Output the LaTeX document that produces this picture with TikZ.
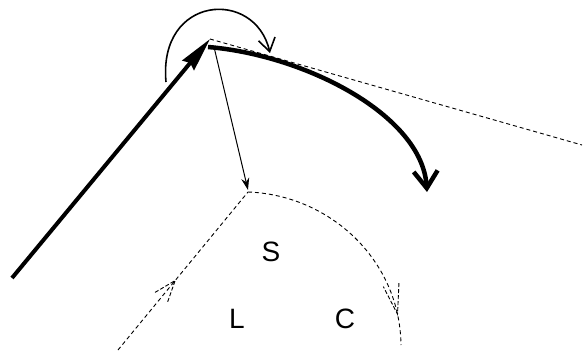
\documentclass[tikz,border=0pt]{standalone}
\usepackage{fontspec}
\setmainfont{Liberation Sans}
\usetikzlibrary{arrows.meta,decorations.markings}
\begin{document}
\begin{tikzpicture}[x=1pt,y=-1pt,
  lbl/.style={font=\fontsize{28}{30}\selectfont, inner sep=0pt},
  thin dash/.style={line width=0.9pt, dash pattern=on 4pt off 3pt},
  midarrow/.style args={#1 at #2}{postaction={decorate},
    decoration={markings, mark=at position #2 with {\draw[line width=0.9pt, dash pattern=on 4pt off 2pt] (-#1,8pt) -- (0,0) -- (-#1,-8pt);}}}
]
\useasboundingbox (0,0) rectangle (583,353);
% coordinates
\coordinate (start) at (12,278);
\coordinate (V) at (210,39);
\coordinate (Vb) at (208,47);
\coordinate (Vc) at (214,47);
\coordinate (far) at (582,145);
\coordinate (tipB) at (427,192);
\coordinate (loopS) at (166,82);
\coordinate (loopE) at (270,53);
\coordinate (N) at (248,190);
\coordinate (Lb) at (118,350);
\coordinate (Rb) at (401,345);
\coordinate (Nd) at (248,192);
% incoming thick arrow
\draw[line width=4pt, -{Stealth[length=34pt,width=15pt,inset=3pt]}] (start) -- (V);
% dashed tangent
\draw[thin dash] (V) -- (far);
% loop arrow
\draw[line width=1.6pt, -{Straight Barb[length=13pt,width=17pt]}] (loopS) .. controls (158,-5) and (255,-12) .. (loopE);
% thick curved arrow
\draw[line width=4.5pt, -{Straight Barb[length=17pt,width=24pt]}] (Vb) .. controls (305,55) and (422,115) .. (tipB);
% thin arrow
\draw[line width=1pt, -{Stealth[length=12pt,width=8pt]}] (Vc) -- (N);
% dashed orbit
\draw[thin dash, midarrow={22pt at 0.44}] (Lb) -- (Nd);
\draw[thin dash, midarrow={30pt at 0.87}] (Nd) .. controls (330,195) and (400,260) .. (Rb);
% labels
\node[lbl] (S) at (271,252) {S};
\node[lbl] (L) at (237,319) {L};
\node[lbl] (C) at (345,319) {C};
\end{tikzpicture}
\end{document}
